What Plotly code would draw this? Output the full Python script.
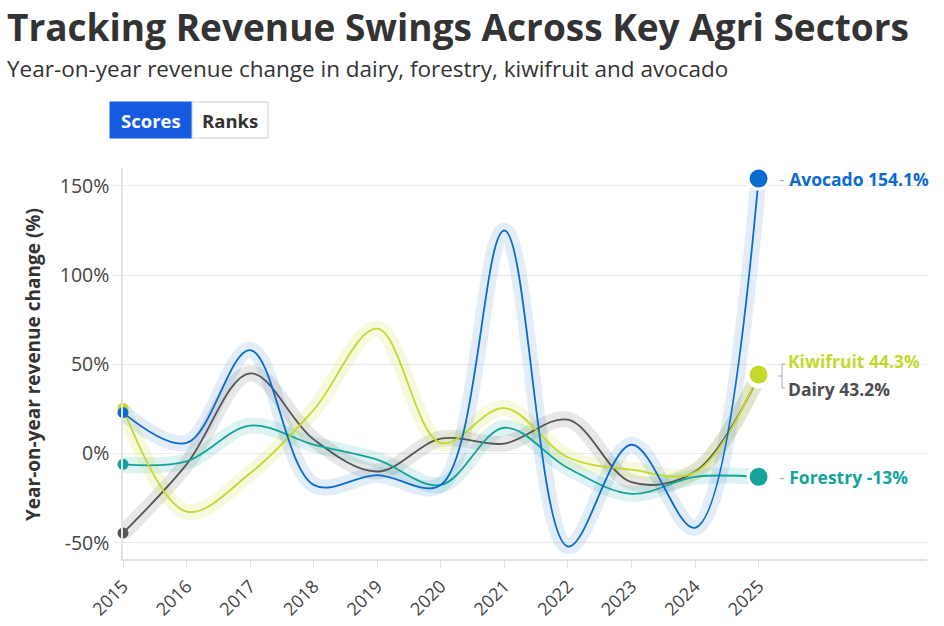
import plotly.graph_objects as go

years = [2015, 2016, 2017, 2018, 2019, 2020, 2021, 2022, 2023, 2024, 2025]
avocado = [23, 6, 58, -17.5, -12, -17.5, 125, -52, 5, -41.5, 154.1]
dairy = [-44.5, -6, 45, 8, -10, 8.4, 5.6, 19, -16, -10, 43.2]
kiwifruit = [25.5, -32.5, -11, 24.5, 70, 6, 25.5, -2, -9, -10.5, 44.3]
forestry = [-6, -4.3, 15.7, 5, -3.4, -17.5, 14.5, -8, -22.5, -13, -13]

series = [
    ("Dairy", dairy, "#555555", "rgba(85,85,85,0.14)"),
    ("Forestry", forestry, "#12a39b", "rgba(18,163,155,0.14)"),
    ("Kiwifruit", kiwifruit, "#c5d82e", "rgba(197,216,46,0.16)"),
    ("Avocado", avocado, "#0a6bd0", "rgba(10,107,208,0.12)"),
]

FONT = "Open Sans"
W, H = 944, 626
ML, MR, MT, MB = 123, 17, 168, 67
PW, PH = W - ML - MR, H - MT - MB


def px_x(px):
    return (px - ML) / PW


def px_y(py):
    return (H - MB - py) / PH


fig = go.Figure()

for name, vals, col, halo in series:
    fig.add_trace(go.Scatter(x=years, y=vals, mode="lines",
                             line=dict(color=halo, width=16, shape="spline", smoothing=1.0),
                             hoverinfo="skip", showlegend=False, cliponaxis=False))
for name, vals, col, halo in series:
    fig.add_trace(go.Scatter(x=years, y=vals, mode="lines", name=name,
                             line=dict(color=col, width=1.8, shape="spline", smoothing=1.0),
                             showlegend=False, cliponaxis=False))
for name, vals, col, halo in series:
    fig.add_trace(go.Scatter(x=[years[0]], y=[vals[0]], mode="markers",
                             marker=dict(color=col, size=11), hoverinfo="skip",
                             showlegend=False, cliponaxis=False))
for name, vals, col, halo in series:
    fig.add_trace(go.Scatter(x=[years[-1]], y=[vals[-1]], mode="markers",
                             marker=dict(color=col, size=21, line=dict(color="white", width=3)),
                             hoverinfo="skip", showlegend=False, cliponaxis=False))

annotations = []
annotations.append(dict(text="<b>Tracking Revenue Swings Across Key Agri Sectors</b>",
                        xref="paper", yref="paper", x=px_x(5), y=px_y(26),
                        xanchor="left", yanchor="middle", showarrow=False,
                        font=dict(family=FONT, size=37, color="#333333")))
annotations.append(dict(text="Year-on-year revenue change in dairy, forestry, kiwifruit and avocado",
                        xref="paper", yref="paper", x=px_x(5), y=px_y(69),
                        xanchor="left", yanchor="middle", showarrow=False,
                        font=dict(family=FONT, size=22.5, color="#333333")))
annotations.append(dict(text="<b>Year-on-year revenue change (%)</b>",
                        xref="paper", yref="paper", x=px_x(33), y=px_y(365),
                        xanchor="center", yanchor="middle", textangle=-90, showarrow=False,
                        font=dict(family=FONT, size=19, color="#333333")))
shapes = [
    dict(type="rect", xref="paper", yref="paper", x0=px_x(110), x1=px_x(192),
         y0=px_y(138), y1=px_y(102), fillcolor="#155be0", line=dict(color="#155be0", width=1)),
    dict(type="rect", xref="paper", yref="paper", x0=px_x(192), x1=px_x(268),
         y0=px_y(138), y1=px_y(102), fillcolor="white", line=dict(color="#cfcfcf", width=1)),
]
annotations.append(dict(text="<b>Scores</b>", xref="paper", yref="paper",
                        x=px_x(151), y=px_y(120), xanchor="center", yanchor="middle",
                        showarrow=False, font=dict(family=FONT, size=18.5, color="white")))
annotations.append(dict(text="<b>Ranks</b>", xref="paper", yref="paper",
                        x=px_x(230), y=px_y(120), xanchor="center", yanchor="middle",
                        showarrow=False, font=dict(family=FONT, size=18.5, color="#333333")))

dash = "<span style='color:#b5b5b5'>- </span>"
labels = [
    ("Avocado", avocado[-1], "#0a6bd0", 0, 18, dash),
    ("Kiwifruit", kiwifruit[-1], "#c5d82e", 14, 27, ""),
    ("Dairy", dairy[-1], "#4d4d4d", -12, 27, ""),
    ("Forestry", forestry[-1], "#12a39b", 0, 18, dash),
]
for name, val, col, ys, xs, pre in labels:
    txt = f"{val:g}%"
    annotations.append(dict(text=f"{pre}<b>{name} {txt}</b>", xref="x", yref="y",
                            x=years[-1], y=val, xshift=xs, yshift=ys,
                            xanchor="left", yanchor="middle", showarrow=False,
                            font=dict(family=FONT, size=17.5, color=col)))

bx = px_x(782)
shapes.append(dict(type="path", xref="paper", yref="paper",
                   path=f"M {px_x(785)},{px_y(364)} L {bx},{px_y(364)} L {bx},{px_y(388)} L {px_x(785)},{px_y(388)}",
                   line=dict(color="#aaaaaa", width=1)))
shapes.append(dict(type="line", xref="paper", yref="paper", x0=px_x(778), x1=bx,
                   y0=px_y(376), y1=px_y(376), line=dict(color="#aaaaaa", width=1)))

fig.update_layout(
    width=W, height=H,
    margin=dict(l=ML, r=MR, t=MT, b=MB, autoexpand=False),
    paper_bgcolor="white", plot_bgcolor="white",
    font=dict(family=FONT, color="#444444"),
    annotations=annotations, shapes=shapes,
    xaxis=dict(range=[2015, 2027.65], tickvals=years, ticktext=[str(y) for y in years],
               tickangle=-45, showgrid=False, zeroline=False, automargin=False,
               showline=True, linecolor="#e3e3e3", linewidth=1.5,
               ticks="outside", ticklen=8, tickcolor="#e3e3e3",
               tickfont=dict(family=FONT, size=18, color="#444444")),
    yaxis=dict(range=[-59, 160], tickvals=[-50, 0, 50, 100, 150],
               ticktext=["-50%", "0%", "50%", "100%", "150%"],
               showgrid=True, gridcolor="#ebebeb", zeroline=False, automargin=False,
               showline=True, linecolor="#e3e3e3", linewidth=1.5,
               ticks="outside", ticklen=8, tickcolor="#ebebeb",
               tickfont=dict(family=FONT, size=19.5, color="#444444")),
)

fig.write_html("out.html", config={"displayModeBar": False},
               post_script="document.body.style.margin='0px';")
